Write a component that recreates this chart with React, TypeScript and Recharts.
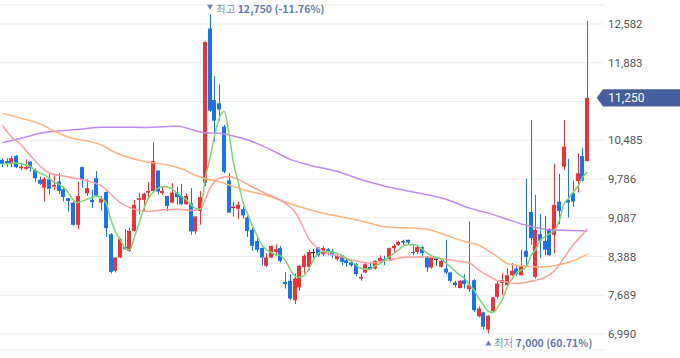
import React from 'react';
import { ComposedChart, Bar, Line, XAxis, YAxis, CartesianGrid, ReferenceDot, ReferenceLine } from 'recharts';

const opens = [10130,10110,10070,10200,9980,9970,10100,9950,9770,9630,9780,9650,9740,9600,9440,9360,8960,10000,9530,9410,9800,9360,9550,8790,8130,8370,8560,8490,8850,9410,9410,9540,9570,9940,9530,9480,9360,9540,9480,9330,9350,8840,9210,9720,12500,11210,11150,10730,9760,9260,9250,9240,9090,8870,8670,8540,8220,8370,8470,8540,7930,7950,7600,7830,8200,8200,8470,8550,8430,8520,8490,8340,8410,8320,8280,8250,7990,8100,8200,8170,8310,8340,8340,8540,8600,8670,8690,8470,8470,8560,8380,8190,8350,8200,8170,8100,7920,7820,7960,7800,7960,7310,7380,7070,7400,7660,7910,7870,8050,8170,8050,8490,9190,8020,8790,8670,8870,8780,9380,10010,9410,9530,9750,10200,10110];
const highs = [10160,10160,10200,10220,10060,10140,10110,9980,9830,9820,9890,9850,9890,9650,9440,9380,9740,10010,9780,9590,9930,9480,9560,8810,8380,8720,8880,8910,9410,9530,9540,9730,10450,9940,9660,9480,9710,9640,9700,9520,9620,9110,9570,12270,12750,11640,11490,10760,9890,9380,9380,9290,9120,8900,8720,8550,8450,8580,8610,8580,8110,8070,8080,8230,8430,8510,8520,8560,8580,8540,8520,8450,8410,8370,8320,8270,8080,8270,8290,8320,8410,8400,8550,8610,8670,8690,8690,8610,8600,8580,8400,8370,8370,8360,8690,8110,7950,7960,8070,9020,7980,7490,7390,7330,7660,7950,8090,8180,8270,8230,8510,9790,10850,9500,9150,9120,8900,10060,9880,10850,10150,9760,10250,10350,12640];
const lows = [10000,10000,10000,9980,9940,9950,9920,9740,9680,9380,9500,9590,9520,9380,9200,8940,8880,9630,9480,9260,9460,9210,8740,8080,8100,8360,8510,8470,8840,9150,9210,9420,9540,9510,9500,9210,9350,9320,9320,9320,8780,8790,8960,9660,11000,10460,10840,9890,9170,9110,9060,9070,8740,8490,8470,8230,8200,8360,8410,8280,7810,7600,7530,7770,8080,8140,8370,8380,8400,8410,8360,8310,8230,8200,8200,8040,7950,8080,8150,8150,8270,8230,8320,8470,8580,8600,8610,8410,8430,8370,8110,8170,8220,8190,8070,7920,7830,7810,7810,7750,7390,7290,7070,7000,7370,7630,7690,7850,8040,8040,8040,8200,8600,7990,8360,8410,8400,8450,8970,9950,9090,9280,9540,9740,10100];
const closes = [10060,10060,10160,10000,10010,10000,9980,9800,9700,9790,9610,9680,9570,9460,9390,8960,9480,9770,9620,9370,9490,9430,8900,8110,8370,8700,8520,8850,9320,9440,9520,9570,10110,9560,9570,9300,9540,9460,9330,9480,8840,9110,9460,12260,11020,10840,11040,9920,9180,9290,9320,9130,8850,8580,8510,8370,8370,8580,8520,8310,7890,7630,7990,8220,8400,8470,8470,8410,8540,8470,8410,8400,8290,8270,8230,8070,8020,8250,8160,8310,8360,8310,8540,8580,8650,8640,8640,8450,8560,8450,8190,8370,8350,8310,8100,7950,7870,7950,7890,7870,7420,7450,7120,7320,7650,7900,7960,8050,8130,8070,8210,8380,8720,8870,8670,8510,8410,9320,9210,10370,9360,9380,9890,9760,11250];

const ma5 = [10060,10060,10070,10070,10060,10040,10010,9940,9890,9860,9790,9730,9690,9630,9540,9410,9360,9390,9420,9450,9480,9440,9350,9050,8830,8690,8540,8510,8740,8990,9260,9440,9550,9620,9650,9640,9610,9530,9470,9410,9320,9250,9240,9800,10160,10580,10890,11010,10630,10070,9730,9370,9150,8940,8760,8600,8510,8460,8420,8400,8310,8160,8040,8010,8050,8170,8340,8450,8480,8480,8470,8440,8410,8350,8300,8230,8170,8160,8160,8220,8260,8320,8380,8450,8510,8580,8600,8600,8580,8520,8450,8400,8370,8340,8270,8200,8120,8050,7990,7870,7780,7630,7510,7400,7380,7480,7620,7840,7980,8100,8140,8200,8400,8510,8680,8740,8800,8860,9030,9330,9440,9550,9660,9820,9910];

const ma20Pts = [[0,10750],[2,10540],[4,10400],[6,10200],[8,10020],[10,9890],[13,9840],[16,9790],[19,9730],[21,9660],[23,9510],[25,9360],[27,9270],[29,9220],[31,9200],[34,9230],[37,9240],[40,9220],[42,9240],[43,9420],[44,9620],[46,9800],[48,9830],[50,9780],[53,9640],[56,9520],[59,9400],[61,9280],[62,9190],[63,9050],[64,8870],[65,8700],[66,8600],[68,8480],[71,8400],[75,8310],[78,8270],[82,8320],[86,8380],[90,8380],[94,8340],[97,8300],[99,8270],[101,8140],[103,8040],[105,7950],[107,7930],[109,7900],[112,7940],[115,8010],[117,8130],[119,8360],[121,8600],[123,8790],[124,8890]];
const ma60Pts = [[0,10970],[4,10880],[8,10780],[11,10650],[14,10540],[18,10470],[21,10400],[24,10260],[27,10170],[31,10090],[35,10040],[38,9970],[41,9850],[43,9790],[45,9760],[48,9680],[52,9570],[56,9490],[60,9370],[64,9260],[68,9170],[72,9100],[76,9030],[80,8940],[83,8910],[87,8900],[90,8880],[94,8770],[98,8660],[101,8590],[103,8490],[105,8380],[107,8260],[110,8220],[114,8200],[118,8240],[121,8310],[124,8430]];
const ma120Pts = [[0,10440],[4,10520],[8,10610],[13,10660],[17,10690],[21,10720],[25,10720],[30,10715],[34,10730],[37,10740],[40,10680],[43,10620],[46,10610],[49,10560],[52,10490],[57,10310],[61,10140],[65,10040],[71,9920],[77,9750],[83,9620],[89,9520],[94,9420],[99,9260],[103,9170],[107,9060],[111,8950],[115,8880],[119,8860],[124,8850]];

const yTicks = [6990, 7689, 8388, 9087, 9786, 10485, 11184, 11883, 12582];
const hiddenTick = 11184;
const maxIndex = 44;
const maxValue = 12750;
const maxLabel = '최고';
const maxText = '12,750 (-11.76%)';
const minIndex = 103;
const minValue = 7000;
const minLabel = '최저';
const minText = '7,000 (60.71%)';
const lastPrice = 11250;
const padCount = 3;

const RED = '#ec3338';
const BLUE = '#1a73e8';
const DOJI = '#333333';

const rows: any[] = [];
for (let i = 0; i < opens.length + padCount; i++) {
  const has = i < opens.length;
  rows.push({
    i,
    open: has ? opens[i] : null,
    high: has ? highs[i] : null,
    low: has ? lows[i] : null,
    close: has ? closes[i] : null,
    ma5: has ? ma5[i] : null,
    ma20: null,
    ma60: null,
    ma120: null,
  });
}
ma20Pts.forEach(([i, v]) => { rows[i].ma20 = v; });
ma60Pts.forEach(([i, v]) => { rows[i].ma60 = v; });
ma120Pts.forEach(([i, v]) => { rows[i].ma120 = v; });

const Candle = (props: any) => {
  const { x, y, width, height, payload } = props;
  if (!payload || payload.high == null) return <g />;
  const top = Math.min(y, y + height);
  const h = Math.abs(height);
  const { open, close, high, low } = payload;
  const py = (v: number) => (high === low ? top : top + ((high - v) / (high - low)) * h);
  const color = close > open ? RED : close < open ? BLUE : DOJI;
  const cx = x + width / 2;
  const bx = Math.round(cx - 2);
  const bTop = py(Math.max(open, close));
  const bBot = py(Math.min(open, close));
  const bh = Math.max(1.2, bBot - bTop);
  return (
    <g>
      <line x1={bx + 2.5} x2={bx + 2.5} y1={top} y2={top + h} stroke={color} strokeWidth={1} />
      <rect x={bx} y={bTop} width={4} height={bh} fill={color} />
    </g>
  );
};

const YTick = (props: any) => {
  const { x, y, payload } = props;
  if (payload.value === hiddenTick) return <g />;
  return (
    <text x={x} y={y} dy="0.355em" textAnchor="start" fill="#555" fontSize={11.5} fontFamily="Roboto, 'Noto Sans', sans-serif">
      {Number(payload.value).toLocaleString('en-US')}
    </text>
  );
};

const HighLabel = (props: any) => {
  const vb = props.viewBox || {};
  const cx = vb.x + (vb.width || 0) / 2;
  const cy = vb.y + (vb.height || 0) / 2;
  return (
    <g>
      <polygon points={`${cx - 3},${cy - 10} ${cx + 3},${cy - 10} ${cx},${cy - 5}`} fill="#6b7db5" />
      <text x={cx + 6} y={cy - 1.5} fontSize={10.5} fontFamily="'Noto Sans CJK KR', 'Noto Sans', sans-serif">
        <tspan fill="#8391bf">{maxLabel} </tspan>
        <tspan fill="#6679b3" fontWeight="bold">{maxText}</tspan>
      </text>
    </g>
  );
};

const LowLabel = (props: any) => {
  const vb = props.viewBox || {};
  const cx = vb.x + (vb.width || 0) / 2;
  const cy = vb.y + (vb.height || 0) / 2;
  return (
    <g>
      <polygon points={`${cx - 3},${cy + 12} ${cx + 3},${cy + 12} ${cx},${cy + 7}`} fill="#6b7db5" />
      <text x={cx + 5.5} y={cy + 13.3} fontSize={10.5} fontFamily="'Noto Sans CJK KR', 'Noto Sans', sans-serif">
        <tspan fill="#8391bf">{minLabel} </tspan>
        <tspan fill="#6679b3" fontWeight="bold">{minText}</tspan>
      </text>
    </g>
  );
};

const PriceTag = (props: any) => {
  const vb = props.viewBox || {};
  const right = vb.x + vb.width;
  const y = vb.y;
  const tip = right - 7.3;
  const end = right + 76;
  const d = `M${tip},${y} L${right - 1},${y - 8.7} L${end},${y - 8.7} L${end},${y + 8.7} L${right - 1},${y + 8.7} Z`;
  return (
    <g>
      <path d={d} fill="#465f9c" />
      <text x={right + 4.3} y={y} dy="0.355em" fill="#ffffff" fontSize={12} fontFamily="Roboto, 'Noto Sans', sans-serif">
        {lastPrice.toLocaleString('en-US')}
      </text>
    </g>
  );
};

export default function App() {
  return (
    <div style={{ position: 'absolute', left: 0, top: 0, width: 680, height: 358, background: '#fff' }}>
      <ComposedChart width={680} height={358} data={rows} margin={{ top: 5, right: 0, bottom: 8, left: 0 }}>
        <CartesianGrid horizontal vertical={false} stroke="#eeeeee" />
        <XAxis dataKey="i" type="category" hide />
        <YAxis
          orientation="right"
          type="number"
          width={76}
          domain={[6701.4, 12924.7]}
          allowDataOverflow
          ticks={yTicks}
          interval={0}
          axisLine={false}
          tickLine={false}
          tickSize={0}
          tickMargin={4}
          tick={<YTick />}
        />
        <Bar
          dataKey={(d: any) => (d.high == null ? null : [d.low, d.high])}
          barSize={4}
          shape={<Candle />}
          isAnimationActive={false}
        />
        <Line dataKey="ma120" type="monotone" stroke="#c08af5" strokeWidth={1.5} dot={false} activeDot={false} connectNulls isAnimationActive={false} />
        <Line dataKey="ma60" type="monotone" stroke="#ffb37a" strokeWidth={1.5} dot={false} activeDot={false} connectNulls isAnimationActive={false} />
        <Line dataKey="ma20" type="monotone" stroke="#ff9c9c" strokeWidth={1.5} dot={false} activeDot={false} connectNulls isAnimationActive={false} />
        <Line dataKey="ma5" type="monotone" stroke="#7cd672" strokeWidth={1.5} dot={false} activeDot={false} connectNulls isAnimationActive={false} />
        <ReferenceDot x={maxIndex} y={maxValue} r={0} fill="none" stroke="none" label={(p: any) => <HighLabel {...p} />} />
        <ReferenceDot x={minIndex} y={minValue} r={0} fill="none" stroke="none" label={(p: any) => <LowLabel {...p} />} />
        <ReferenceLine y={lastPrice} stroke="none" label={(p: any) => <PriceTag {...p} />} />
      </ComposedChart>
    </div>
  );
}
